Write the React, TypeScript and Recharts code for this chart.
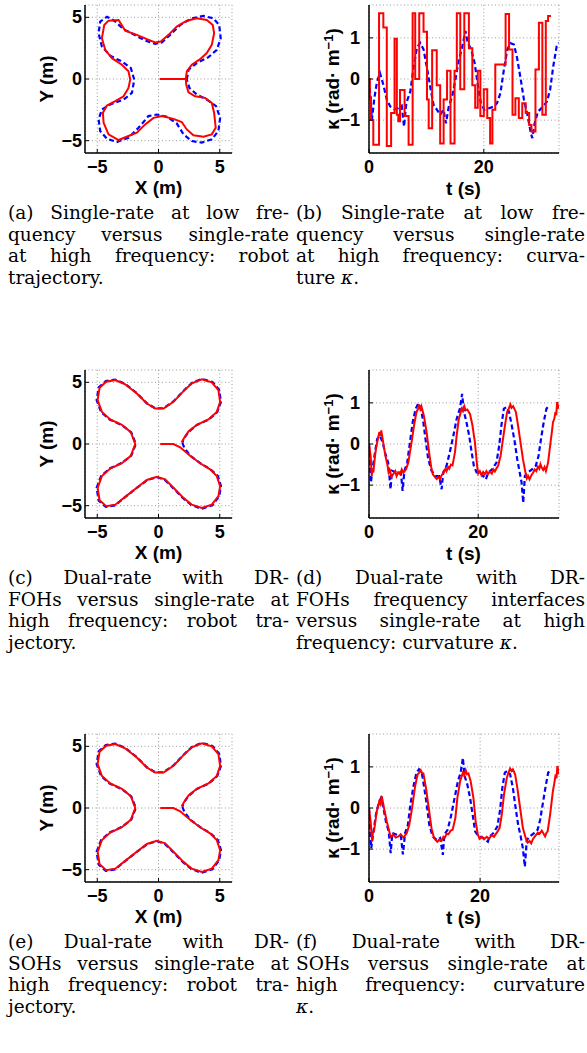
import React from 'react'
import { LineChart, Line, XAxis, YAxis, CartesianGrid } from 'recharts'

type Pt = [number, number]

// ─── Robot trajectories (x, y) in metres ───────────────────────────────────────

// (a) single-rate at low frequency (red) / high frequency (blue)
const TRAJ_A_LOW: Pt[] = [
  [0.1, 0], [2.23, 0], [2.31, 0.62], [2.72, 1.16], [3.4, 1.61], [3.94, 2.1], [4.35, 2.77],
  [4.54, 3.71], [4.43, 4.38], [3.94, 4.78], [3.13, 4.92], [2.31, 4.73], [1.49, 4.25],
  [0.82, 3.58], [0.19, 3.04], [-0.27, 2.96], [-0.95, 3.23], [-1.77, 3.58], [-2.72, 3.92],
  [-3.26, 4.78], [-4.08, 4.73], [-4.43, 4.38], [-4.62, 3.31], [-4.35, 2.37], [-3.8, 1.69],
  [-2.99, 1.16], [-2.45, 0.62], [-2.31, -0.05], [-2.45, -0.73], [-2.85, -1.4], [-3.53, -1.8],
  [-4.21, -2.15], [-4.54, -2.74], [-4.48, -3.55], [-4.08, -4.49], [-3.26, -4.95],
  [-2.45, -4.62], [-1.77, -4.35], [-1.09, -3.68], [-0.41, -3.15], [0.27, -3.01], [1.22, -3.23],
  [1.9, -3.49], [2.31, -4.09], [2.85, -4.57], [3.67, -4.68], [4.35, -4.49], [4.67, -3.95],
  [4.54, -2.74], [4.35, -1.94], [3.8, -1.53], [2.99, -1.4], [2.45, -1.08], [2.26, -0.46], [2.23, 0],
]
const TRAJ_A_HIGH: Pt[] = [
  [2.31, -0.05], [2.45, 0.75], [3.13, 1.29], [4.08, 1.77], [4.76, 2.37], [5.08, 3.31],
  [4.95, 4.38], [4.48, 4.92], [3.67, 5.11], [2.72, 4.92], [1.77, 4.38], [0.95, 3.58],
  [0.27, 2.96], [-0.27, 2.85], [-1.09, 3.12], [-2.04, 3.63], [-2.85, 4.03], [-3.61, 4.73],
  [-4.21, 5.05], [-4.76, 4.65], [-4.89, 3.71], [-4.62, 2.63], [-3.94, 1.88], [-2.99, 1.42],
  [-2.26, 0.89], [-1.98, -0.05], [-2.17, -1.13], [-2.85, -1.67], [-3.94, -2.07], [-4.62, -2.47],
  [-4.89, -3.28], [-4.76, -4.22], [-4.21, -4.84], [-3.4, -5.11], [-2.45, -4.76], [-1.63, -3.95],
  [-0.82, -3.01], [-0.14, -2.88], [0.68, -3.06], [1.49, -3.6], [2.04, -4.49], [2.72, -5.03],
  [3.53, -5.16], [4.35, -4.89], [4.89, -4.22], [5.03, -3.15], [4.7, -2.2], [3.94, -1.67],
  [3.13, -1.26], [2.53, -0.73], [2.31, -0.05],
]

// (c), (e) dual-rate (red) / single-rate at high frequency (blue)
const TRAJ_DR: Pt[] = [
  [0.14, 0], [1.22, 0], [1.77, -0.27], [2.58, -0.96], [3.4, -1.56], [4.21, -2.05], [4.76, -2.6],
  [5.03, -3.42], [4.89, -4.23], [4.35, -4.92], [3.53, -5.19], [2.72, -4.92], [2.04, -4.37],
  [1.22, -3.55], [0.54, -2.87], [-0.14, -2.65], [-0.95, -2.92], [-1.77, -3.55], [-2.72, -4.29],
  [-3.53, -4.92], [-4.27, -5.05], [-4.81, -4.56], [-4.97, -3.55], [-4.62, -2.6], [-3.94, -1.99],
  [-2.99, -1.56], [-2.26, -0.96], [-1.9, 0], [-2.26, 0.96], [-2.99, 1.56], [-3.94, 1.99],
  [-4.62, 2.6], [-4.97, 3.55], [-4.81, 4.56], [-4.27, 5.05], [-3.53, 5.19], [-2.72, 4.84],
  [-1.77, 4.1], [-0.95, 3.28], [-0.27, 2.87], [0.41, 2.87], [1.22, 3.42], [2.04, 4.29],
  [2.72, 4.92], [3.53, 5.25], [4.35, 5.0], [4.89, 4.37], [5.03, 3.42], [4.76, 2.6], [4.08, 1.99],
  [3.13, 1.56], [2.45, 1.01], [2.04, 0.41], [1.9, 0.14],
]
const TRAJ_SR: Pt[] = [
  [1.95, 0.1], [2.1, -0.3], [2.6, -0.95], [3.4, -1.55], [4.25, -2.05], [4.85, -2.6], [5.1, -3.42],
  [4.95, -4.25], [4.4, -4.98], [3.5, -5.25], [2.7, -4.95], [2.0, -4.4], [1.2, -3.58], [0.5, -2.9],
  [-0.15, -2.68], [-0.95, -2.95], [-1.8, -3.58], [-2.75, -4.33], [-3.55, -4.98], [-4.3, -5.1],
  [-4.88, -4.6], [-5.05, -3.55], [-4.68, -2.58], [-3.96, -1.97], [-2.99, -1.53], [-2.22, -0.94],
  [-1.85, 0], [-2.22, 0.94], [-2.99, 1.53], [-3.96, 1.97], [-4.68, 2.58], [-5.05, 3.55],
  [-4.88, 4.6], [-4.3, 5.1], [-3.53, 5.22], [-2.7, 4.86], [-1.76, 4.12], [-0.95, 3.3],
  [-0.27, 2.9], [0.41, 2.9], [1.22, 3.45], [2.05, 4.32], [2.74, 4.96], [3.55, 5.28], [4.4, 5.03],
  [4.95, 4.4], [5.1, 3.42], [4.8, 2.6], [4.1, 1.98], [3.13, 1.54], [2.45, 0.98], [2.05, 0.4], [1.95, 0.1],
]

// ─── Curvature κ (t in s, κ in rad·m⁻¹) ──────────────────────────────────────

// (b) low frequency held steps (red) / high frequency (blue)
const KAPPA_B_LOW: Pt[] = [
  [0, 0], [0.15, -0.45], [0.35, -1.0], [0.75, -1.6], [1.75, 1.6], [2.5, 1.25], [3.1, -1.63],
  [3.85, -0.83], [4.45, 0.98], [4.85, -0.87], [5.1, -1.03], [5.4, -0.27], [6.2, -0.9], [6.9, -1.6],
  [7.6, 1.6], [8.05, 0.0], [8.75, 1.6], [9.5, 1.15], [10.1, -0.5], [10.4, -1.2], [11.0, 0.7],
  [11.8, -0.15], [12.4, -1.57], [13.0, -0.5], [13.6, 0.2], [14.2, -1.57], [14.9, 0.2], [15.3, 1.6],
  [15.9, -0.25], [16.6, 1.6], [17.4, 0.75], [18.0, -0.15], [18.5, -0.7], [18.95, 0.2], [19.4, -0.9],
  [20.0, -0.25], [20.6, -0.95], [21.1, -1.57], [21.5, -0.75], [22.0, 0.35], [23.8, 1.58],
  [24.4, 0.72], [25.0, -0.87], [25.5, -0.47], [26.1, -0.95], [26.7, -0.59], [27.3, -0.83],
  [27.9, -1.12], [28.3, -1.28], [29.0, 0.23], [29.6, 1.37], [30.2, -0.87], [30.8, 1.41],
  [31.2, 1.53], [31.7, 1.53],
]
const KAPPA_B_HIGH: Pt[] = [
  [0, -0.02], [0.3, -0.5], [0.5, -1.0], [0.9, -0.5], [1.35, -0.1], [1.9, 0.15], [2.5, -0.14],
  [3.1, -0.5], [3.7, -0.67], [4.4, -0.73], [5.1, -0.71], [5.7, -0.65], [6.1, -1.16], [6.5, -0.59],
  [7.2, -0.3], [7.75, 0.27], [8.35, 0.76], [8.9, 0.88], [9.5, 0.72], [10.1, 0.27], [10.7, -0.22],
  [11.25, -0.63], [11.85, -0.75], [12.4, -0.87], [13.0, -0.75], [13.4, -1.08], [13.9, -0.67],
  [14.5, -0.42], [15.05, -0.02], [15.6, 0.43], [16.2, 0.76], [16.8, 1.17], [17.2, 0.88],
  [17.8, 0.72], [18.4, 0.39], [18.95, -0.14], [19.5, -0.59], [20.1, -0.75], [20.9, -0.71],
  [21.75, -0.67], [22.3, -0.59], [22.9, -0.34], [23.5, 0.23], [24.1, 0.72], [24.65, 0.87],
  [25.25, 0.84], [25.8, 0.51], [26.4, 0.02], [27.0, -0.51], [27.6, -0.87], [28.2, -1.32],
  [28.45, -1.44], [28.85, -1.08], [29.45, -0.79], [30.2, -0.69], [31.0, -0.55], [31.55, -0.26],
  [32.1, 0.31], [32.7, 0.8], [33.1, 0.88],
]

// (d) dual-rate with DR-FOHs (red) / single-rate high frequency (blue)
const KAPPA_D_FOH: Pt[] = [
  [0, 0], [0.3, -0.29], [0.5, -0.78], [0.65, -0.6], [0.8, -0.69], [1.1, -0.29], [1.3, -0.1],
  [1.5, 0.04], [1.9, 0.29], [2.1, 0.2], [2.25, 0.33], [2.6, 0.04], [3.0, -0.29], [3.35, -0.49],
  [3.6, -0.7], [3.85, -0.65], [4.1, -0.8], [4.45, -0.73], [4.8, -0.66], [5.05, -0.78], [5.35, -0.69],
  [5.7, -0.74], [6.0, -0.62], [6.3, -0.7], [6.8, -0.61], [7.2, -0.45], [7.7, -0.04], [8.25, 0.45],
  [8.7, 0.78], [9.0, 0.86], [9.2, 0.96], [9.4, 0.85], [9.6, 0.92], [10.05, 0.69], [10.55, 0.29],
  [11.0, -0.2], [11.45, -0.61], [11.7, -0.74], [12.05, -0.8], [12.4, -0.85], [12.7, -0.8],
  [13.0, -0.86], [13.3, -0.76], [13.7, -0.69], [14.0, -0.6], [14.2, -0.66], [14.5, -0.56],
  [14.7, -0.6], [15.0, -0.5], [15.3, -0.52], [15.75, -0.2], [16.05, 0.2], [16.45, 0.61],
  [16.7, 0.72], [16.95, 0.86], [17.2, 0.8], [17.45, 0.92], [17.7, 0.82], [18.0, 0.84], [18.5, 0.73],
  [18.95, 0.45], [19.4, 0.04], [19.8, -0.53], [20.0, -0.72], [20.3, -0.66], [20.6, -0.76],
  [20.9, -0.68], [21.2, -0.74], [21.5, -0.66], [21.8, -0.73], [22.15, -0.67], [22.5, -0.72],
  [22.8, -0.62], [23.05, -0.67], [23.4, -0.58], [23.65, -0.53], [24.1, -0.29], [24.45, 0.04],
  [24.9, 0.45], [25.3, 0.78], [25.6, 0.86], [25.9, 0.96], [26.1, 0.88], [26.4, 0.92], [26.9, 0.78],
  [27.3, 0.45], [27.75, 0.04], [28.2, -0.37], [28.65, -0.69], [28.9, -0.84], [29.15, -0.78],
  [29.4, -0.86], [29.75, -0.76], [30.05, -0.7], [30.35, -0.62], [30.65, -0.66], [30.95, -0.55],
  [31.2, -0.6], [31.4, -0.49], [31.65, -0.58], [31.9, -0.63], [32.15, -0.56], [32.4, -0.66],
  [32.8, -0.45], [33.25, 0.04], [33.5, 0.3], [33.7, 0.53], [33.95, 0.62], [34.15, 0.78],
  [34.3, 0.7], [34.45, 1.02], [34.75, 0.86],
]
const KAPPA_D_SR: Pt[] = [
  [0, 0], [0.2, -0.53], [0.35, -0.94], [0.65, -0.61], [1.1, -0.2], [1.5, 0.12], [2.0, 0.2],
  [2.5, 0.04], [3.0, -0.24], [3.5, -0.45], [3.95, -1.1], [4.2, -0.65], [5.05, -0.69], [5.85, -0.69],
  [6.15, -1.14], [6.5, -0.65], [7.0, -0.45], [7.5, 0.04], [8.0, 0.53], [8.55, 0.86], [9.0, 0.98],
  [9.5, 0.86], [9.95, 0.53], [10.35, 0.12], [10.85, -0.37], [11.45, -0.65], [12.25, -0.78],
  [12.85, -0.78], [13.3, -1.1], [13.6, -0.69], [14.2, -0.53], [14.8, -0.2], [15.45, 0.2],
  [16.05, 0.61], [16.65, 0.86], [17.05, 1.22], [17.4, 0.78], [17.85, 0.53], [18.35, 0.2],
  [18.8, -0.2], [19.2, -0.53], [19.7, -0.69], [20.6, -0.73], [21.4, -0.86], [21.85, -0.69],
  [22.6, -0.61], [23.35, -0.45], [23.85, -0.04], [24.25, 0.45], [24.7, 0.86], [25.2, 0.9],
  [25.65, 0.78], [26.15, 0.45], [26.7, 0.04], [27.15, -0.37], [27.6, -0.69], [27.95, -0.94],
  [28.25, -1.43], [28.55, -0.78], [29.15, -0.69], [29.9, -0.61], [30.55, -0.53], [31.05, -0.29],
  [31.5, 0.12], [32.0, 0.53], [32.5, 0.86], [32.8, 0.9],
]

// (f) dual-rate with DR-SOHs (red) / single-rate high frequency (blue)
const KAPPA_F_SOH: Pt[] = [
  [0, 0], [0.3, -0.33], [0.55, -0.82], [0.7, -0.6], [0.9, -0.57], [1.4, -0.08], [1.85, 0.16],
  [2.05, 0.1], [2.3, 0.29], [2.7, 0], [3.2, -0.33], [3.65, -0.57], [3.9, -0.7], [4.4, -0.65],
  [4.8, -0.72], [5.3, -0.69], [5.7, -0.64], [6.2, -0.72], [6.8, -0.61], [7.25, -0.41], [7.75, 0],
  [8.3, 0.53], [8.75, 0.82], [9.05, 0.86], [9.3, 0.92], [9.55, 0.85], [9.8, 0.84], [10.25, 0.49],
  [10.75, 0], [11.25, -0.49], [11.7, -0.73], [12.0, -0.78], [12.3, -0.82], [12.7, -0.76],
  [13.05, -0.8], [13.4, -0.7], [13.65, -0.72], [14.0, -0.62], [14.3, -0.64], [14.7, -0.55],
  [15.05, -0.53], [15.55, -0.24], [15.9, 0.24], [16.4, 0.65], [16.9, 0.86], [17.15, 0.8],
  [17.4, 0.92], [17.65, 0.82], [17.9, 0.84], [18.3, 0.65], [18.8, 0.24], [19.2, -0.33],
  [19.6, -0.65], [19.9, -0.75], [20.3, -0.7], [20.7, -0.76], [21.2, -0.7], [21.6, -0.75],
  [22.1, -0.66], [22.5, -0.7], [23.0, -0.6], [23.5, -0.49], [23.9, -0.16], [24.3, 0.33],
  [24.8, 0.73], [25.1, 0.86], [25.4, 0.96], [25.65, 0.9], [25.9, 0.94], [26.3, 0.82], [26.7, 0.49],
  [27.2, 0], [27.7, -0.49], [28.2, -0.73], [28.55, -0.84], [28.9, -0.8], [29.2, -0.86],
  [29.5, -0.76], [29.8, -0.7], [30.1, -0.65], [30.4, -0.6], [30.7, -0.63], [31.1, -0.55],
  [31.4, -0.62], [31.7, -0.69], [31.95, -0.6], [32.15, -0.57], [32.6, -0.16], [33.1, 0.41],
  [33.35, 0.6], [33.6, 0.82], [33.75, 0.72], [33.9, 1.02], [34.2, 0.82],
]
const KAPPA_F_SR: Pt[] = [
  [0, 0], [0.2, -0.57], [0.4, -0.98], [0.8, -0.57], [1.25, -0.16], [1.75, 0.12], [2.15, 0.24],
  [2.6, 0], [3.05, -0.33], [3.55, -0.57], [3.9, -1.1], [4.2, -0.61], [5.0, -0.65], [5.75, -0.69],
  [6.1, -1.13], [6.5, -0.61], [7.0, -0.41], [7.45, 0.08], [8.0, 0.53], [8.55, 0.86], [9.0, 0.94],
  [9.5, 0.86], [9.9, 0.53], [10.4, 0.08], [10.85, -0.41], [11.45, -0.69], [12.2, -0.78],
  [12.8, -0.73], [13.3, -1.14], [13.55, -0.65], [14.15, -0.53], [14.75, -0.2], [15.4, 0.24],
  [16.0, 0.65], [16.5, 0.86], [16.9, 1.22], [17.2, 0.78], [17.7, 0.57], [18.2, 0.24], [18.7, -0.2],
  [19.1, -0.57], [19.7, -0.69], [20.6, -0.73], [21.4, -0.82], [21.7, -0.69], [22.4, -0.61],
  [23.1, -0.45], [23.6, -0.04], [24.0, 0.49], [24.45, 0.86], [24.9, 0.9], [25.4, 0.82], [25.9, 0.49],
  [26.35, 0.04], [26.85, -0.41], [27.3, -0.69], [27.7, -0.98], [28.05, -1.43], [28.4, -0.78],
  [29.0, -0.69], [29.7, -0.61], [30.35, -0.53], [30.8, -0.29], [31.3, 0.12], [31.8, 0.53],
  [32.25, 0.86], [32.6, 0.9],
]

// ─── Ticks and captions ───────────────────────────────────────────────────────

const XY_TICKS = [-5, 0, 5]
const K_TICKS = [-1, 0, 1]
const T_TICKS = [0, 20]
const XY_DOMAIN: [number, number] = [-6, 6]
const K_DOMAIN: [number, number] = [-1.8, 1.8]

const CAPTION_A = ['(a) Single-rate at low fre-', 'quency versus single-rate', 'at high frequency: robot', 'trajectory.']
const CAPTION_B = ['(b) Single-rate at low fre-', 'quency versus single-rate', 'at high frequency: curva-', 'ture κ.']
const CAPTION_C = ['(c) Dual-rate with DR-', 'FOHs versus single-rate at', 'high frequency: robot tra-', 'jectory.']
const CAPTION_D = ['(d) Dual-rate with DR-', 'FOHs frequency interfaces', 'versus single-rate at high', 'frequency: curvature κ.']
const CAPTION_E = ['(e) Dual-rate with DR-', 'SOHs versus single-rate at', 'high frequency: robot tra-', 'jectory.']
const CAPTION_F = ['(f) Dual-rate with DR-', 'SOHs versus single-rate at', 'high frequency: curvature', 'κ.']

// ─── Styling ──────────────────────────────────────────────────────────────────

const RED = '#ff0000'
const BLUE = '#0000ff'
const SANS = '"Liberation Sans", Arial, sans-serif'
const SERIF = '"DejaVu Serif", "Liberation Serif", serif'
const TICK_STYLE = { fontFamily: SANS, fontWeight: 700, fontSize: 18, fill: '#000' }
const AXIS_LINE = { stroke: '#000', strokeWidth: 1.5 }
const ROW_TOPS = [0, 365, 729]

const toXY = (pts: Pt[]) => pts.map(([x, y]) => ({ x, y }))
const fmt = (v: number) => (v < 0 ? `\u2212${-v}` : String(v))

// ─── Axis ticks (MATLAB style: marks point into the box) ──────────────────────

function BottomTick({ x, y, payload }: any) {
  return (
    <g>
      <line x1={x} y1={y} x2={x} y2={y - 4} stroke="#000" />
      <text x={x} y={y + 14} textAnchor="middle" dominantBaseline="central" style={TICK_STYLE}>
        {fmt(payload.value)}
      </text>
    </g>
  )
}

function LeftTick({ x, y, payload, gap }: any) {
  return (
    <g>
      <line x1={x} y1={y} x2={x + 4} y2={y} stroke="#000" />
      <text x={x - gap} y={y} textAnchor="end" dominantBaseline="central" style={TICK_STYLE}>
        {fmt(payload.value)}
      </text>
    </g>
  )
}

const TopTick = ({ x, y }: any) => <line x1={x} y1={y} x2={x} y2={y + 4} stroke="#000" />
const RightTick = ({ x, y }: any) => <line x1={x} y1={y} x2={x - 4} y2={y} stroke="#000" />

// ─── Shared frame (grid + four axes) ──────────────────────────────────────────

function frame(xDomain: [number, number], xTicks: number[], yTicks: number[], yDomain: [number, number], yWidth: number, gap: number) {
  return [
    <CartesianGrid key="grid" stroke="#9a9a9a" strokeDasharray="1 2.5" />,
    <XAxis
      key="xb" xAxisId={0} dataKey="x" type="number" domain={xDomain} ticks={xTicks} allowDataOverflow
      interval={0} height={47} tickSize={0} tickMargin={0} tickLine={false} axisLine={AXIS_LINE}
      tick={(p: any) => <BottomTick {...p} />}
    />,
    <XAxis
      key="xt" xAxisId="top" orientation="top" type="number" domain={xDomain} ticks={xTicks} allowDataOverflow
      interval={0} height={0} tickSize={0} tickMargin={0} tickLine={false} axisLine={AXIS_LINE}
      tick={(p: any) => <TopTick {...p} />}
    />,
    <YAxis
      key="yl" yAxisId={0} type="number" domain={yDomain} ticks={yTicks} allowDataOverflow
      interval={0} width={yWidth} tickSize={0} tickMargin={0} tickLine={false} axisLine={AXIS_LINE}
      tick={(p: any) => <LeftTick {...p} gap={gap} />}
    />,
    <YAxis
      key="yr" yAxisId="right" orientation="right" type="number" domain={yDomain} ticks={yTicks} allowDataOverflow
      interval={0} width={0} tickSize={0} tickMargin={0} tickLine={false} axisLine={AXIS_LINE}
      tick={(p: any) => <RightTick {...p} />}
    />,
  ]
}

function AxisLabel({ x, y, rotate, children }: any) {
  return (
    <div
      style={{
        position: 'absolute', left: x, top: y, whiteSpace: 'nowrap',
        transform: `translate(-50%, -50%)${rotate ? ' rotate(-90deg)' : ''}`,
        fontFamily: SANS, fontWeight: 700, fontSize: 19, lineHeight: 1, color: '#000',
      }}
    >
      {children}
    </div>
  )
}

// ─── Panels ───────────────────────────────────────────────────────────────────

function TrajectoryPanel({ top, red, blue }: { top: number; red: Pt[]; blue: Pt[] }) {
  return (
    <div style={{ position: 'absolute', left: 0, top, width: 240, height: 200 }}>
      <LineChart width={240} height={200} margin={{ top: 5, right: 8, bottom: 0, left: 0 }}>
        {frame(XY_DOMAIN, XY_TICKS, XY_TICKS, XY_DOMAIN, 85, 3)}
        <Line data={toXY(blue)} dataKey="y" type="linear" stroke={BLUE} strokeWidth={2.2}
          strokeDasharray="5 3" dot={false} activeDot={false} isAnimationActive={false} />
        <Line data={toXY(red)} dataKey="y" type="linear" stroke={RED} strokeWidth={2}
          dot={false} activeDot={false} isAnimationActive={false} />
      </LineChart>
      <AxisLabel x={46} y={79} rotate>Y (m)</AxisLabel>
      <AxisLabel x={158.5} y={187}>X (m)</AxisLabel>
    </div>
  )
}

function CurvaturePanel({ top, red, blue, tMax, step }: { top: number; red: Pt[]; blue: Pt[]; tMax: number; step?: boolean }) {
  return (
    <div style={{ position: 'absolute', left: 290, top, width: 297, height: 200 }}>
      <LineChart width={297} height={200} margin={{ top: 5, right: 28, bottom: 0, left: 0 }}>
        {frame([0, tMax], T_TICKS, K_TICKS, K_DOMAIN, 79, 9)}
        <Line data={toXY(blue)} dataKey="y" type="linear" stroke={BLUE} strokeWidth={2.2}
          strokeDasharray="5 3" dot={false} activeDot={false} isAnimationActive={false} />
        <Line data={toXY(red)} dataKey="y" type={step ? 'stepAfter' : 'linear'} stroke={RED} strokeWidth={2}
          dot={false} activeDot={false} isAnimationActive={false} />
      </LineChart>
      <AxisLabel x={42} y={79} rotate>
        κ (rad· m<sup style={{ fontSize: 13, verticalAlign: 6 }}>−1</sup>)
      </AxisLabel>
      <AxisLabel x={173.5} y={188}>t (s)</AxisLabel>
    </div>
  )
}

function Caption({ lines, left, width, top }: { lines: string[]; left: number; width: number; top: number }) {
  return (
    <>
      {lines.map((line, i) => {
        const last = i === lines.length - 1
        const kappa = line.indexOf('κ')
        return (
          <div
            key={i}
            style={{
              position: 'absolute', left, width, top: top + i * 21.5, height: 21.5,
              fontFamily: SERIF, fontSize: 18.5, lineHeight: '21.5px', color: '#000', whiteSpace: 'nowrap',
              textAlign: last ? 'left' : 'justify', textAlignLast: last ? 'left' : 'justify',
            }}
          >
            {kappa < 0 ? line : (
              <>
                {line.slice(0, kappa)}<i>κ</i>{line.slice(kappa + 1)}
              </>
            )}
          </div>
        )
      })}
    </>
  )
}

export default function App() {
  const capTop = 202
  return (
    <div style={{ position: 'absolute', left: 0, top: 0, width: 587, height: 1053, background: '#fff', overflow: 'hidden' }}>
      <TrajectoryPanel top={ROW_TOPS[0]} red={TRAJ_A_LOW} blue={TRAJ_A_HIGH} />
      <CurvaturePanel top={ROW_TOPS[0]} red={KAPPA_B_LOW} blue={KAPPA_B_HIGH} tMax={33.1} step />
      <TrajectoryPanel top={ROW_TOPS[1]} red={TRAJ_DR} blue={TRAJ_SR} />
      <CurvaturePanel top={ROW_TOPS[1]} red={KAPPA_D_FOH} blue={KAPPA_D_SR} tMax={34.8} />
      <TrajectoryPanel top={ROW_TOPS[2]} red={TRAJ_DR} blue={TRAJ_SR} />
      <CurvaturePanel top={ROW_TOPS[2]} red={KAPPA_F_SOH} blue={KAPPA_F_SR} tMax={34.2} />

      <Caption lines={CAPTION_A} left={8} width={281} top={ROW_TOPS[0] + capTop} />
      <Caption lines={CAPTION_B} left={296} width={289} top={ROW_TOPS[0] + capTop} />
      <Caption lines={CAPTION_C} left={8} width={281} top={ROW_TOPS[1] + capTop} />
      <Caption lines={CAPTION_D} left={296} width={289} top={ROW_TOPS[1] + capTop} />
      <Caption lines={CAPTION_E} left={8} width={281} top={ROW_TOPS[2] + capTop} />
      <Caption lines={CAPTION_F} left={296} width={289} top={ROW_TOPS[2] + capTop} />
    </div>
  )
}
